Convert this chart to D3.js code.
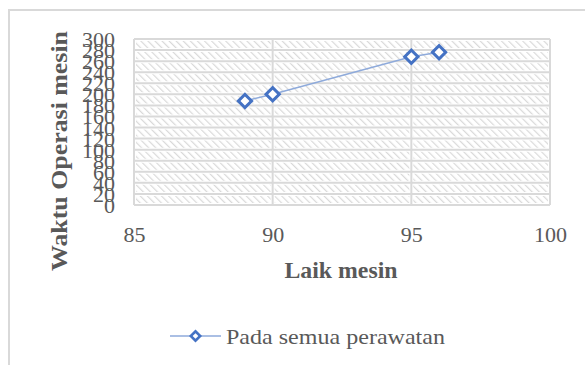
<!DOCTYPE html>
<html><head><meta charset="utf-8">
<script src="https://cdn.jsdelivr.net/npm/d3@7"></script>
<style>body{margin:0;background:#fff}svg{display:block}text{font-family:'Liberation Serif','Times New Roman',serif}</style>
</head><body>
<svg id="c" width="585" height="365"></svg>
<script>
const xValues = [89, 90, 95, 96];
const yValues = [188, 200, 268, 276];
const seriesName = "Pada semua perawatan";
const xTicks = [85, 90, 95, 100];
const yTicks = d3.range(0, 301, 20);

const svg = d3.select("#c");
const font = "'Liberation Serif','Times New Roman',serif";
const txt = "#595959";

// chart frame
svg.append("rect").attr("x", 9).attr("y", 10).attr("width", 600).attr("height", 400)
  .attr("fill", "none").attr("stroke", "#d9d9d9").attr("stroke-width", 2);

const L = 134, R = 550, T = 39, B = 205;
const x = d3.scaleLinear().domain([85, 100]).range([L, R]);
const y = d3.scaleLinear().domain([0, 300]).range([B, T]);

const defs = svg.append("defs");
const pat = defs.append("pattern").attr("id", "hatch").attr("patternUnits", "userSpaceOnUse")
  .attr("width", 5).attr("height", 5).attr("patternTransform", "rotate(-45)");
pat.append("rect").attr("width", 5).attr("height", 5).attr("fill", "#fff");
pat.append("line").attr("x1", 0).attr("y1", 0).attr("x2", 0).attr("y2", 5)
  .attr("stroke", "#d9d9d9").attr("stroke-width", 2.4);

svg.append("rect").attr("x", L).attr("y", T).attr("width", R - L).attr("height", B - T)
  .attr("fill", "url(#hatch)");

const g = svg.append("g");
g.selectAll(".hw").data(yTicks).join("line")
  .attr("x1", L).attr("x2", R).attr("y1", d => y(d)).attr("y2", d => y(d))
  .attr("stroke", "#fff").attr("stroke-width", 4);
g.selectAll(".vw").data(xTicks).join("line")
  .attr("y1", T).attr("y2", B).attr("x1", d => x(d)).attr("x2", d => x(d))
  .attr("stroke", "#fff").attr("stroke-width", 4);
g.selectAll(".hg").data(yTicks).join("line")
  .attr("x1", L).attr("x2", R).attr("y1", d => y(d)).attr("y2", d => y(d))
  .attr("stroke", "#d9d9d9").attr("stroke-width", 2);
g.selectAll(".vg").data(xTicks).join("line")
  .attr("y1", T).attr("y2", B).attr("x1", d => x(d)).attr("x2", d => x(d))
  .attr("stroke", "#d9d9d9").attr("stroke-width", 2);

// axes
const ya = d3.axisLeft(y).tickValues(yTicks).tickSize(0).tickPadding(0);
const yg = svg.append("g").attr("transform", `translate(${L - 19},0)`).call(ya);
yg.attr("font-family", null).attr("font-size", null);
yg.select(".domain").remove();
yg.selectAll("text").style("font-family", font).style("font-size", "22px").attr("fill", txt).attr("dy", "0.34em");

const xa = d3.axisBottom(x).tickValues(xTicks).tickSize(0).tickPadding(0);
const xg = svg.append("g").attr("transform", `translate(0,242)`).call(xa);
xg.attr("font-family", null).attr("font-size", null);
xg.select(".domain").remove();
xg.selectAll("text").style("font-family", font).style("font-size", "22px").attr("fill", txt).attr("dy", 0);

// titles
svg.append("text").attr("x", 341).attr("y", 278).attr("text-anchor", "middle")
  .style("font-family", font).style("font-size", "23px").attr("font-weight", "bold").attr("fill", txt)
  .attr("textLength", 113).attr("lengthAdjust", "spacingAndGlyphs")
  .text("Laik mesin");
svg.append("text").attr("transform", "translate(67,151) rotate(-90)").attr("text-anchor", "middle")
  .style("font-family", font).style("font-size", "24px").attr("font-weight", "bold").attr("fill", txt)
  .attr("textLength", 240).attr("lengthAdjust", "spacingAndGlyphs")
  .text("Waktu Operasi mesin");

// series
const pts = xValues.map((v, i) => [v, yValues[i]]);
svg.append("path").datum(pts)
  .attr("d", d3.line().x(d => x(d[0])).y(d => y(d[1])))
  .attr("fill", "none").attr("stroke", "#8eaadb").attr("stroke-width", 1.5);
const diamond = d3.symbol().type(d3.symbolSquare).size(88);
svg.selectAll(".pt").data(pts).join("path")
  .attr("d", diamond())
  .attr("transform", d => `translate(${x(d[0])},${y(d[1])}) rotate(45)`)
  .attr("fill", "#fff").attr("stroke", "#4472c4").attr("stroke-width", 3);

// legend
const ly = 336;
svg.append("line").attr("x1", 170).attr("x2", 221).attr("y1", ly).attr("y2", ly)
  .attr("stroke", "#8eaadb").attr("stroke-width", 1.5);
svg.append("path").attr("d", d3.symbol().type(d3.symbolSquare).size(44)())
  .attr("transform", `translate(195.5,${ly}) rotate(45)`)
  .attr("fill", "#fff").attr("stroke", "#4472c4").attr("stroke-width", 2.6);
svg.append("text").attr("x", 226).attr("y", 344)
  .style("font-family", font).style("font-size", "22px")
  .attr("textLength", 219).attr("lengthAdjust", "spacingAndGlyphs")
  .attr("fill", txt).text(seriesName);
</script>
</body></html>
